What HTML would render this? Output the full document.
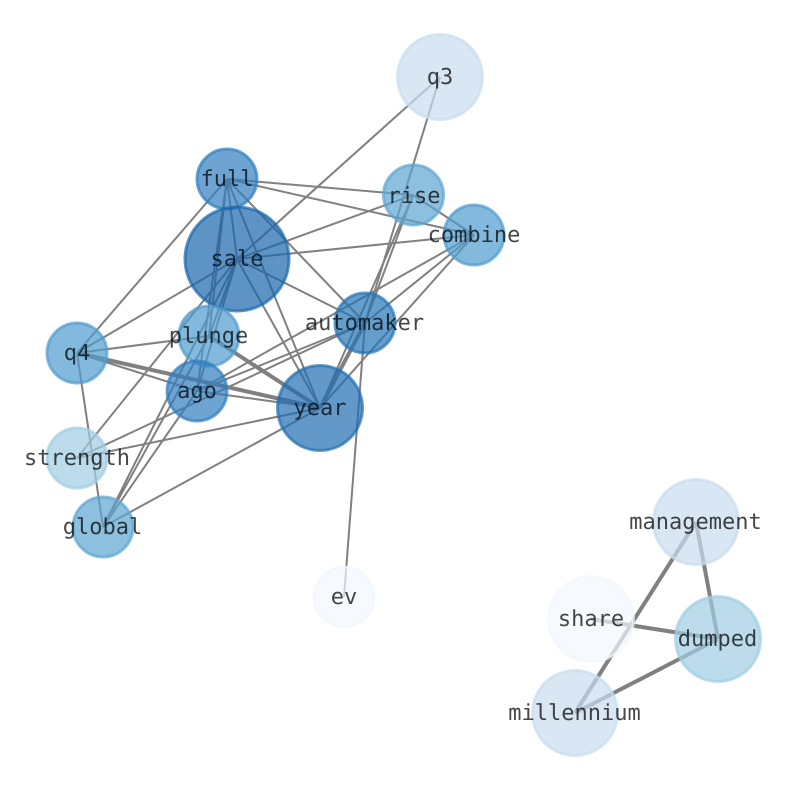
<!DOCTYPE html>
<html><head><meta charset="utf-8"><style>
html,body{margin:0;padding:0;background:#fff}
svg{display:block}
text{font-family:"DejaVu Sans Mono","Liberation Mono",monospace;font-size:22px;fill:#000;opacity:.72;text-anchor:middle;text-rendering:geometricPrecision}
.e{stroke:#808080;stroke-width:2;fill:none}
.t{stroke:#808080;stroke-width:4;fill:none}
.n{stroke-width:3;fill-opacity:.7;stroke-opacity:.7}
</style></head><body>
<svg width="794" height="790" viewBox="0 0 794 790" xmlns="http://www.w3.org/2000/svg">
<g class="edges">
<line class="e" x1="440" y1="77" x2="237" y2="259"/>
<line class="e" x1="440" y1="77" x2="365" y2="323"/>
<line class="e" x1="227" y1="179" x2="413" y2="195"/>
<line class="e" x1="227" y1="179" x2="474" y2="235"/>
<line class="e" x1="227" y1="179" x2="237" y2="259"/>
<line class="e" x1="227" y1="179" x2="365" y2="323"/>
<line class="e" x1="227" y1="179" x2="209" y2="336"/>
<line class="e" x1="227" y1="179" x2="77" y2="353"/>
<line class="e" x1="227" y1="179" x2="197" y2="391"/>
<line class="e" x1="227" y1="179" x2="320" y2="408"/>
<line class="e" x1="413" y1="195" x2="474" y2="235"/>
<line class="e" x1="413" y1="195" x2="237" y2="259"/>
<line class="e" x1="413" y1="195" x2="365" y2="323"/>
<line class="e" x1="413" y1="195" x2="320" y2="408"/>
<line class="e" x1="474" y1="235" x2="237" y2="259"/>
<line class="e" x1="474" y1="235" x2="365" y2="323"/>
<line class="e" x1="474" y1="235" x2="320" y2="408"/>
<line class="e" x1="474" y1="235" x2="197" y2="391"/>
<line class="e" x1="237" y1="259" x2="365" y2="323"/>
<line class="e" x1="237" y1="259" x2="209" y2="336"/>
<line class="e" x1="237" y1="259" x2="77" y2="353"/>
<line class="e" x1="237" y1="259" x2="197" y2="391"/>
<line class="e" x1="237" y1="259" x2="320" y2="408"/>
<line class="e" x1="237" y1="259" x2="103" y2="527"/>
<line class="e" x1="237" y1="259" x2="77" y2="458"/>
<line class="e" x1="365" y1="323" x2="197" y2="391"/>
<line class="t" x1="365" y1="323" x2="320" y2="408"/>
<line class="e" x1="365" y1="323" x2="77" y2="458"/>
<line class="e" x1="365" y1="323" x2="344" y2="597"/>
<line class="t" x1="209" y1="336" x2="320" y2="408"/>
<line class="e" x1="209" y1="336" x2="77" y2="353"/>
<line class="e" x1="209" y1="336" x2="103" y2="527"/>
<line class="t" x1="77" y1="353" x2="320" y2="408"/>
<line class="e" x1="77" y1="353" x2="197" y2="391"/>
<line class="e" x1="77" y1="353" x2="103" y2="527"/>
<line class="e" x1="197" y1="391" x2="320" y2="408"/>
<line class="e" x1="197" y1="391" x2="103" y2="527"/>
<line class="e" x1="320" y1="408" x2="77" y2="458"/>
<line class="e" x1="320" y1="408" x2="103" y2="527"/>
<line class="t" x1="696" y1="522" x2="718" y2="639"/>
<line class="t" x1="696" y1="522" x2="575" y2="713"/>
<line class="t" x1="591" y1="619" x2="718" y2="639"/>
<line class="t" x1="718" y1="639" x2="575" y2="713"/>
</g>
<g class="nodes">
<circle class="n" cx="440" cy="77" r="42.5" fill="#c9dcee" stroke="#c9dcee"/>
<circle class="n" cx="227" cy="179" r="30" fill="#2f7ebf" stroke="#2f7ebf"/>
<circle class="n" cx="413.500" cy="195" r="30" fill="#5ca5d0" stroke="#5ca5d0"/>
<circle class="n" cx="474" cy="235" r="30" fill="#4f9bce" stroke="#4f9bce"/>
<circle class="n" cx="237" cy="259" r="52" fill="#1a67ad" stroke="#1a67ad"/>
<circle class="n" cx="365" cy="323" r="30" fill="#2373b5" stroke="#2373b5"/>
<circle class="n" cx="209" cy="336" r="30" fill="#4f9bce" stroke="#4f9bce"/>
<circle class="n" cx="77" cy="353" r="30" fill="#4f9bce" stroke="#4f9bce"/>
<circle class="n" cx="197" cy="391" r="30" fill="#2f7ebf" stroke="#2f7ebf"/>
<circle class="n" cx="320" cy="408" r="42.5" fill="#1f6db2" stroke="#1f6db2"/>
<circle class="n" cx="77" cy="458" r="30" fill="#9fcde2" stroke="#9fcde2"/>
<circle class="n" cx="103" cy="527" r="30" fill="#5ca5d0" stroke="#5ca5d0"/>
<circle class="n" cx="344" cy="597" r="30" fill="#f2f7fd" stroke="#f2f7fd"/>
<circle class="n" cx="696" cy="522" r="42.5" fill="#c9dcee" stroke="#c9dcee"/>
<circle class="n" cx="591" cy="619" r="42.5" fill="#f2f7fd" stroke="#f2f7fd"/>
<circle class="n" cx="718" cy="639" r="42.5" fill="#9fcde2" stroke="#9fcde2"/>
<circle class="n" cx="575" cy="713" r="42.5" fill="#c9dcee" stroke="#c9dcee"/>
</g>
<g class="labels">
<text x="440" y="84">q3</text>
<text x="227" y="186">full</text>
<text x="414" y="203">rise</text>
<text x="474" y="242">combine</text>
<text x="237" y="266">sale</text>
<text x="364.500" y="330">automaker</text>
<text x="208.500" y="343">plunge</text>
<text x="77" y="360">q4</text>
<text x="197" y="398">ago</text>
<text x="320" y="415">year</text>
<text x="77" y="465">strength</text>
<text x="102.500" y="534">global</text>
<text x="344" y="604">ev</text>
<text x="695.500" y="529">management</text>
<text x="591" y="626">share</text>
<text x="717.500" y="646">dumped</text>
<text x="574.500" y="720">millennium</text>
</g>
</svg>
</body></html>
